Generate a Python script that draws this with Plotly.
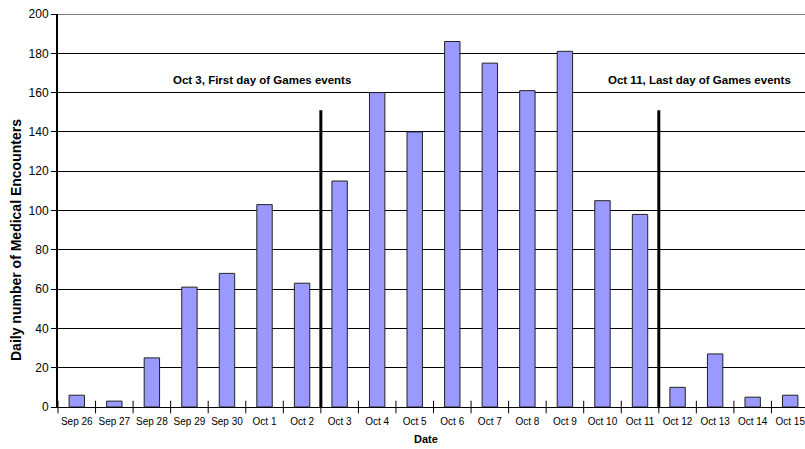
import plotly.graph_objects as go

dates = ["Sep 26", "Sep 27", "Sep 28", "Sep 29", "Sep 30", "Oct 1", "Oct 2", "Oct 3",
         "Oct 4", "Oct 5", "Oct 6", "Oct 7", "Oct 8", "Oct 9", "Oct 10", "Oct 11",
         "Oct 12", "Oct 13", "Oct 14", "Oct 15"]
encounters = [6, 3, 25, 61, 68, 103, 63, 115, 160, 140, 186, 175, 161, 181, 105, 98,
              10, 27, 5, 6]
y_ticks = [0, 20, 40, 60, 80, 100, 120, 140, 160, 180, 200]

# event markers: boundary between Oct 2|Oct 3 and Oct 11|Oct 12
first_day_boundary = 6.5
last_day_boundary = 15.5
marker_height = 151

FONT = "Liberation Sans, Arial, sans-serif"

W, H = 805, 449
L, R, T, B = 58, 0, 14, 42
pw, ph = W - L - R, H - T - B


def px_to_paper(sx, sy):
    return (sx - L) / pw, (H - B - sy) / ph


fig = go.Figure()
fig.add_trace(go.Bar(
    x=list(range(len(dates))), y=encounters,
    width=0.41,
    marker=dict(color="#9999FF", line=dict(color="#222222", width=1)),
    hoverinfo="y",
))

# boundary tick marks on the category axis
fig.add_trace(go.Scatter(
    x=[i - 0.5 for i in range(len(dates) + 1)], y=[0] * (len(dates) + 1),
    mode="markers", marker=dict(symbol="line-ns", size=9, line=dict(color="black", width=1)),
    hoverinfo="skip", cliponaxis=False,
))

# top gridline (plotly omits the grid line on the plot edge)
fig.add_shape(type="line", xref="paper", yref="y", x0=0, x1=1,
              y0=y_ticks[-1], y1=y_ticks[-1], line=dict(color="black", width=1), layer="below")

for xb in (first_day_boundary, last_day_boundary):
    fig.add_shape(type="line", x0=xb, x1=xb, y0=0, y1=marker_height,
                  xref="x", yref="y", line=dict(color="black", width=3))

fig.add_annotation(x=4.92, y=166.4, xref="x", yref="y",
                   text="<b>Oct 3, First day of Games events</b>", showarrow=False,
                   xanchor="center", yanchor="middle",
                   font=dict(family=FONT, size=11.5, color="black"))
fig.add_annotation(x=16.59, y=166.4, xref="x", yref="y",
                   text="<b>Oct 11, Last day of Games events</b>", showarrow=False,
                   xanchor="center", yanchor="middle",
                   font=dict(family=FONT, size=11.5, color="black"))
ax, ay = px_to_paper(16, 240)
fig.add_annotation(x=ax, y=ay, xref="paper", yref="paper",
                   text="<b>Daily number of Medical Encounters</b>", showarrow=False,
                   xanchor="center", yanchor="middle", textangle=-90,
                   font=dict(family=FONT, size=14, color="black"))
dx, dy = px_to_paper(426, 439)
fig.add_annotation(x=dx, y=dy, xref="paper", yref="paper",
                   text="<b>Date</b>", showarrow=False,
                   xanchor="center", yanchor="middle",
                   font=dict(family=FONT, size=11, color="black"))

fig.update_layout(
    width=W, height=H,
    margin=dict(l=L, r=R, t=T, b=B, pad=0, autoexpand=False),
    paper_bgcolor="white", plot_bgcolor="white",
    showlegend=False,
    font=dict(family=FONT, color="black"),
)
fig.update_xaxes(
    type="linear",
    automargin=False,
    range=[-0.5, -0.5 + pw / 37.55],
    tickmode="array",
    tickvals=list(range(len(dates))),
    ticktext=dates,
    ticks="",
    ticklabelstandoff=5,
    ticklabeloverflow="allow",
    showgrid=False,
    showline=True, linecolor="black", linewidth=1,
    tickfont=dict(family=FONT, size=10, color="black"),
    zeroline=False,
)
fig.update_yaxes(
    automargin=False,
    range=[0, 200],
    tickmode="array", tickvals=y_ticks,
    ticks="outside", ticklen=5, tickcolor="black",
    ticklabeloverflow="allow",
    showgrid=True, gridcolor="black", gridwidth=1,
    showline=True, linecolor="black", linewidth=2,
    tickfont=dict(family=FONT, size=12, color="black"),
    zeroline=False,
)

fig.write_html("out.html", config={"displayModeBar": False},
               post_script="document.body.style.margin='0px';document.body.style.overflow='hidden';")
